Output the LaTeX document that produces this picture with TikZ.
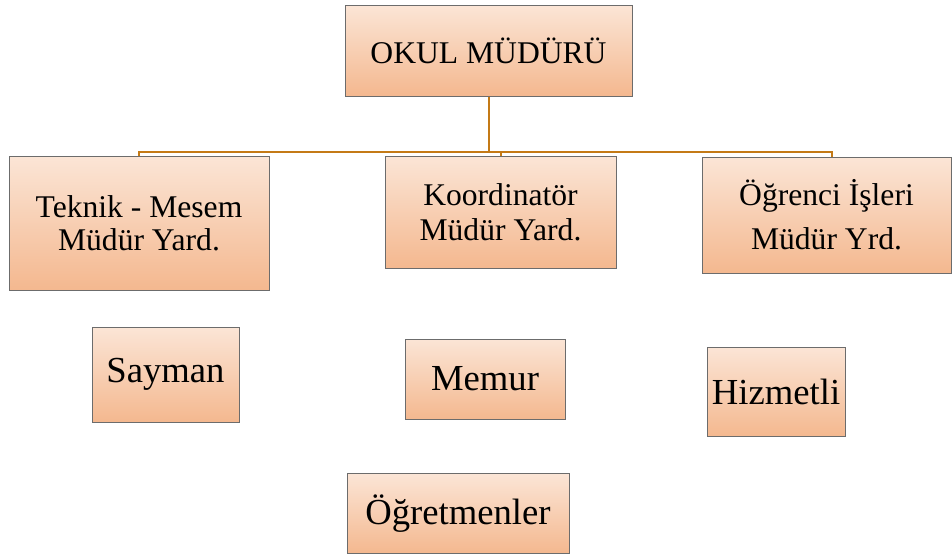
\documentclass[tikz,border=0pt]{standalone}
\usepackage{fontspec}
\setmainfont{Liberation Serif}

\definecolor{peachtop}{RGB}{251,229,214}
\definecolor{peachbot}{RGB}{244,184,143}
\definecolor{busline}{RGB}{196,122,22}

\tikzstyle{box} = [draw=gray!85!black, line width=0.75pt, top color=peachtop, bottom color=peachbot, inner sep=0pt, align=center]
\tikzstyle{conn} = [draw=busline, line width=1.5pt]

\newcommand{\midfont}[1]{\fontsize{23.7}{#1}\selectfont}
\newcommand{\bigfont}{\fontsize{27.5}{30}\selectfont}

\begin{document}
\begin{tikzpicture}[x=0.75pt, y=-0.75pt]
	\useasboundingbox (0,0) rectangle (952,553);

	% Mudur
	\node[box, minimum width=215.25pt, minimum height=68.25pt, font=\midfont{26}] (mudur) at (488.5,50.5) {OKUL MÜDÜRÜ};

	% Yardimcilar
	\node[box, minimum width=195pt, minimum height=100.5pt, font=\midfont{25}] (teknik) at (139,223) {Teknik - Mesem\\Müdür Yard.};
	\node[box, minimum width=173.25pt, minimum height=84pt, font=\midfont{26}] (koord) at (500.5,212) {Koordinatör\\Müdür Yard.};
	\node[box, minimum width=186.75pt, minimum height=87pt, font=\midfont{33}] (ogrenci) at (826.5,215) {Öğrenci İşleri\\Müdür Yrd.};

	% Bus
	\coordinate (bus) at (488.5,152);
	\path[conn] (mudur.south) -- (bus);
	\path[conn] (bus) -| (teknik.north);
	\path[conn] (bus) -| (koord.north);
	\path[conn] (bus) -| ([xshift=4pt]ogrenci.north);

	% Personel
	\node[box, minimum width=110.25pt, minimum height=71.25pt, font=\bigfont] (sayman) at (165.5,374.5) {Sayman};
	\node[box, minimum width=120pt, minimum height=60pt, font=\bigfont] (memur) at (485,379) {Memur};
	\node[box, minimum width=103.5pt, minimum height=66.75pt, font=\bigfont] (hizmetli) at (776,391.5) {Hizmetli};
	\node[box, minimum width=166.5pt, minimum height=60pt, font=\bigfont] (ogretmen) at (458,513.5) {Öğretmenler};

\end{tikzpicture}
\end{document}
